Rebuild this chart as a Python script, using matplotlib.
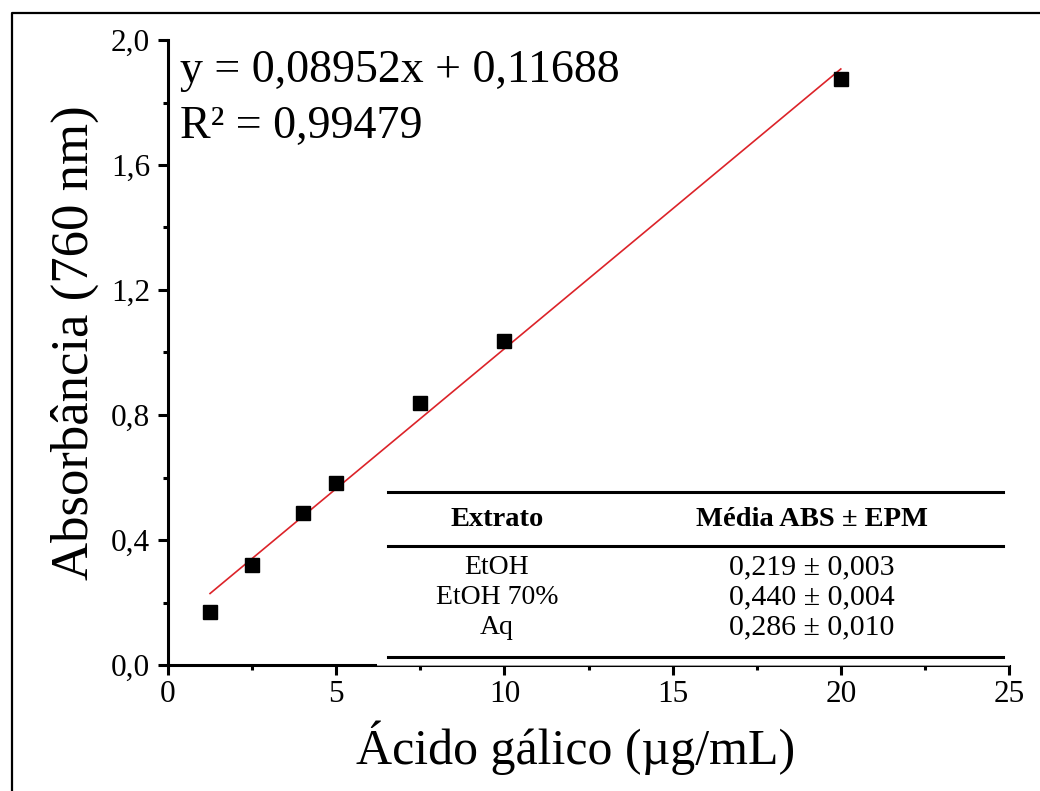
import matplotlib
matplotlib.use("Agg")
import matplotlib.pyplot as plt
from matplotlib.ticker import MultipleLocator, FuncFormatter
from matplotlib.patches import Rectangle
from matplotlib.lines import Line2D

# calibration points (gallic acid concentration vs absorbance)
concentration = [1.25, 2.5, 4.0, 5.0, 7.5, 10.0, 20.0]
absorbance = [0.170, 0.320, 0.486, 0.582, 0.839, 1.036, 1.874]

# linear fit reported on the chart
slope = 0.08952
intercept = 0.11688
r_squared = 0.99479

# inset table
table_header = ["Extrato", "Média ABS ± EPM"]
extracts = ["EtOH", "EtOH 70%", "Aq"]
mean_abs = ["0,219 ± 0,003", "0,440 ± 0,004", "0,286 ± 0,010"]

plt.rcParams['font.family'] = ['Liberation Serif', 'DejaVu Serif']

W, H = 1040, 791
fig = plt.figure(figsize=(W / 100, H / 100), dpi=100)


def fx(px):
    return px / W


def fy(py):
    return 1 - py / H


ax = fig.add_axes([fx(168), fy(665), fx(1009) - fx(168), fy(40) - fy(665)])

ax.plot(concentration, absorbance, 's', color='black', markersize=10, zorder=3)
x_fit = [concentration[0], concentration[-1]]
y_fit = [slope * x + intercept for x in x_fit]
ax.plot(x_fit, y_fit, '-', color='#dc2329', linewidth=1.2, zorder=2)

ax.set_xlim(0, 25)
ax.set_ylim(0, 2.0)
ax.xaxis.set_major_locator(MultipleLocator(5))
ax.xaxis.set_minor_locator(MultipleLocator(2.5))
ax.yaxis.set_major_locator(MultipleLocator(0.4))
ax.yaxis.set_minor_locator(MultipleLocator(0.2))
ax.yaxis.set_major_formatter(FuncFormatter(lambda v, p: f"{v:.1f}".replace('.', ',')))
ax.xaxis.set_major_formatter(FuncFormatter(lambda v, p: f"{v:g}"))

for s in ['top', 'right']:
    ax.spines[s].set_visible(False)
for s in ['left', 'bottom']:
    ax.spines[s].set_linewidth(2.2)
ax.tick_params(which='major', direction='out', length=7, width=2.2, labelsize=22.5)
ax.tick_params(axis='y', which='major', pad=6)
ax.tick_params(axis='x', which='major', pad=4)
ax.tick_params(which='minor', direction='out', length=3.5, width=2.2)

ax.set_ylabel("Absorbância (760 nm)", fontsize=38)
ax.yaxis.set_label_coords((75 - 168) / (1009 - 168), (665 - 343) / (665 - 40))
ax.set_xlabel("Ácido gálico (µg/mL)", fontsize=36)
ax.xaxis.set_label_coords((576 - 168) / (1009 - 168), (665 - 748) / (665 - 40))
ax.xaxis.label.set_va('center')
ax.yaxis.label.set_va('center')

ax.text(0.014, 0.985, f"y = {slope:.5f}x + {intercept:.5f}".replace('.', ','),
        transform=ax.transAxes, fontsize=33, va='top', ha='left')
ax.text(0.014, 0.895, f"R² = {r_squared:.5f}".replace('.', ','),
        transform=ax.transAxes, fontsize=33, va='top', ha='left')

# pasted table: white box over the plot, three rules and the text
fig.add_artist(Rectangle((fx(377), fy(664.5)), fx(1012) - fx(377), fy(478) - fy(664.5),
                         transform=fig.transFigure, facecolor='white', edgecolor='none', zorder=5))
fig.add_artist(Line2D([fx(377), fx(1009)], [fy(665), fy(665)], transform=fig.transFigure,
                      color='#bbbbbb', linewidth=0.6, zorder=5))
for py in [492, 546, 657]:
    fig.add_artist(Line2D([fx(388), fx(1003)], [fy(py), fy(py)], transform=fig.transFigure,
                          color='black', linewidth=2.2, zorder=6))
col_x = [497, 812]
for cx, label in zip(col_x, table_header):
    fig.text(fx(cx), fy(519), label, fontsize=20.5, fontweight='bold', ha='center', va='center', zorder=7)
for i, (name, val) in enumerate(zip(extracts, mean_abs)):
    py = 567 + 30 * i
    fig.text(fx(col_x[0]), fy(py), name, fontsize=20, ha='center', va='center', zorder=7)
    fig.text(fx(col_x[1]), fy(py), val, fontsize=21.5, ha='center', va='center', zorder=7)

# outer frame (only top and left edges are inside the picture)
fig.add_artist(Line2D([fx(12), fx(12), 1.0], [0.0, fy(13), fy(13)], transform=fig.transFigure,
                      color='black', linewidth=1.6))

fig.savefig("out.png", dpi=100)
